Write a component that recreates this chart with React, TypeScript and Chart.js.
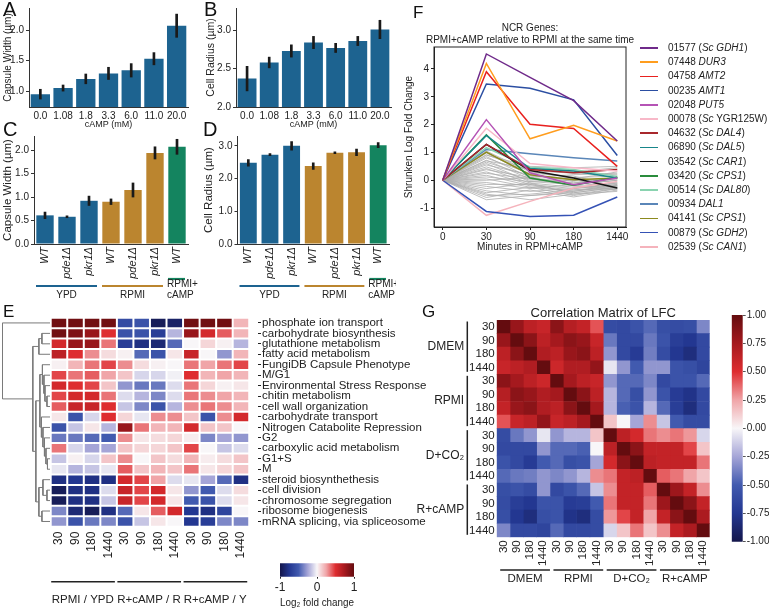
import React, { useEffect, useRef } from 'react';
import { Chart, registerables } from 'chart.js';

Chart.register(...registerables);

const SANS = '"Liberation Sans", Arial, Helvetica, sans-serif';
Chart.defaults.font.family = SANS;
const INK = '#222222';
const AXIS = '#333333';
const BLUE = '#1d6390';
const ORANGE = '#bb852f';
const GREEN = '#14845f';

// ---------------- DATA ----------------
// Panels A / B : cAMP titration
const CAMP_LABELS = ['0.0', '1.08', '1.8', '3.3', '6.0', '11.0', '20.0'];
const A_CAPSULE = [0.95, 1.05, 1.2, 1.29, 1.34, 1.53, 2.07];
const A_CAPSULE_ERR = [0.08, 0.05, 0.08, 0.1, 0.11, 0.1, 0.19];
const A_YTICKS = [1.0, 1.5, 2.0];
const B_RADIUS = [2.37, 2.58, 2.73, 2.84, 2.77, 2.86, 3.01];
const B_RADIUS_ERR = [0.16, 0.07, 0.08, 0.08, 0.06, 0.06, 0.12];
const B_YTICKS = [2.0, 2.5, 3.0];

// Panels C / D : strains in media
const STRAIN_LABELS = ['WT', 'pde1Δ', 'pkr1Δ', 'WT', 'pde1Δ', 'pkr1Δ', 'WT'];
const STRAIN_MEDIUM = [0, 0, 0, 1, 1, 1, 2];
const MEDIUM_GROUPS = [
  { label: ['YPD'], first: 0, last: 2 },
  { label: ['RPMI'], first: 3, last: 5 },
  { label: ['RPMI+', 'cAMP'], first: 6, last: 6 },
];
const MEDIUM_COLORS = [BLUE, ORANGE, GREEN];
const C_CAPSULE = [0.61, 0.58, 0.92, 0.9, 1.15, 1.94, 2.07];
const C_CAPSULE_ERR = [0.07, 0.02, 0.1, 0.06, 0.15, 0.13, 0.16];
const C_YTICKS = [0, 0.5, 1.0, 1.5, 2.0];
const D_RADIUS = [2.48, 2.73, 3.0, 2.38, 2.79, 2.8, 3.02];
const D_RADIUS_ERR = [0.1, 0.03, 0.13, 0.1, 0.03, 0.1, 0.08];
const D_YTICKS = [0, 1, 2, 3];

// Panel F : NCR genes
const F_TIMES = ['0', '30', '90', '180', '1440'];
const F_YTICKS = [-1, 0, 1, 2, 3, 4];
const F_TITLE = ['NCR Genes:', 'RPMI+cAMP relative to RPMI at the same time'];
const NCR_LABELS = [
  '01577 (*Sc GDH1*)', '07448 *DUR3*', '04758 *AMT2*', '00235 *AMT1*', '02048 *PUT5*',
  '00078 (*Sc* YGR125W)', '04632 (*Sc DAL4*)', '06890 (*Sc DAL5*)', '03542 (*Sc CAR1*)',
  '03420 (*Sc CPS1*)', '00514 (*Sc DAL80*)', '00934 *DAL1*', '04141 (*Sc CPS1*)',
  '00879 (*Sc GDH2*)', '02539 (*Sc CAN1*)',
];
const NCR_COLORS = [
  '#6f2a8a', '#ff9d1e', '#e8211f', '#2b4ea2', '#b553b5', '#f8b8c8', '#a8282c', '#17868a',
  '#141414', '#2a8c3c', '#8ad3b0', '#5a86b8', '#8c8a1e', '#3552b5', '#f5b3bc',
];
const NCR_VALUES = [
  [0, 4.54, 3.7, 2.86, 1.41],
  [0, 4.2, 1.49, 1.98, 1.41],
  [0, 3.9, 2.01, 1.86, 0.5],
  [0, 3.46, 3.31, 2.89, 0.89],
  [0, 2.18, 0.27, -0.16, 0.08],
  [0, 1.87, 0.6, 0.45, 0.33],
  [0, 1.29, 0.39, 0.27, 0.39],
  [0, 1.61, 0.42, 0.33, 0.08],
  [0, 1.29, 0.35, 0.08, -0.28],
  [0, 1.63, 0.08, -0.18, 0.11],
  [0, 1.17, 0.47, 0.39, 0.14],
  [0, 1.11, 0.95, 0.81, 0.69],
  [0, 1.01, 0.2, 0.02, 0.08],
  [0, -1.12, -1.3, -1.26, -0.6],
  [0, -1.26, -0.76, -0.28, -0.04],
];
const OTHER_NCR_VALUES = [
  [0, 1.05, 0.3, 0.1, -0.1],
  [0, 0.98, 0.2, 0.0, -0.2],
  [0, 0.92, 0.35, 0.25, 0.2],
  [0, 0.85, 0.1, -0.1, 0.05],
  [0, 0.8, 0.25, 0.15, -0.25],
  [0, 0.72, 0.05, -0.2, -0.1],
  [0, 0.65, 0.15, 0.05, 0.3],
  [0, 0.6, -0.05, -0.15, 0.0],
  [0, 0.55, 0.2, -0.05, -0.3],
  [0, 0.48, 0.0, 0.1, 0.15],
  [0, 0.42, -0.1, -0.25, -0.2],
  [0, 0.38, 0.1, 0.2, 0.25],
  [0, 0.3, -0.15, -0.3, -0.15],
  [0, 0.25, 0.05, -0.1, 0.1],
  [0, 0.18, -0.2, -0.35, -0.3],
  [0, 0.12, -0.05, 0.0, 0.05],
  [0, 0.05, -0.25, -0.4, -0.2],
  [0, 0.0, 0.1, -0.2, -0.35],
  [0, -0.08, -0.3, -0.15, 0.0],
  [0, -0.15, -0.15, -0.45, -0.25],
  [0, -0.22, -0.4, -0.3, -0.1],
  [0, -0.3, -0.1, -0.5, -0.4],
  [0, -0.38, -0.55, -0.4, -0.15],
  [0, -0.45, -0.25, -0.55, -0.3],
  [0, -0.55, -0.5, -0.35, -0.2],
  [0, -0.62, -0.35, -0.6, -0.35],
  [0, -0.7, -0.55, -0.45, -0.25],
  [0, 0.7, 0.4, 0.3, 0.45],
  [0, 0.9, 0.5, 0.45, 0.5],
  [0, -0.5, -0.7, -0.5, -0.3],
];

// Panel E : GO term heatmap
const E_TERMS = [
  'phosphate ion transport', 'carbohydrate biosynthesis', 'glutathione metabolism',
  'fatty acid metabolism', 'FungiDB Capsule Phenotype', 'M/G1', 'Environmental Stress Response',
  'chitin metabolism', 'cell wall organization', 'carbohydrate transport',
  'Nitrogen Catabolite Repression', 'G2', 'carboxylic acid metabolism', 'G1+S', 'M',
  'steroid biosynthethesis', 'cell division', 'chromosome segregation', 'ribosome biogenesis',
  'mRNA splicing, via spliceosome',
];
const E_TIMES = ['30', '90', '180', '1440'];
const E_COMPARISONS = ['RPMI / YPD', 'R+cAMP / R', 'R+cAMP / Y'];
const E_LFC = [
  [0.95, 0.95, 0.95, 0.95, -0.6, -0.55, -0.95, -0.9, 0.95, 0.95, 0.95, 0.2],
  [0.95, 0.9, 0.8, 0.5, -0.55, -0.55, -0.7, -0.2, 0.8, 0.55, 0.4, 0.2],
  [0.55, 0.8, 0.8, 0.35, -0.7, -0.8, -0.85, -0.45, 0.0, 0.1, 0.02, -0.2],
  [0.65, 0.5, 0.3, 0.08, 0.02, -0.45, -0.55, 0.05, 0.6, 0.0, -0.3, 0.2],
  [0.02, 0.2, 0.35, 0.45, 0.3, 0.08, 0.02, 0.0, 0.35, 0.25, 0.35, 0.45],
  [0.45, 0.35, 0.4, 0.25, 0.15, -0.1, -0.1, -0.02, 0.5, 0.2, 0.25, 0.2],
  [0.55, 0.5, 0.45, 0.15, -0.3, -0.4, -0.4, -0.08, 0.35, 0.1, 0.02, 0.05],
  [0.45, 0.55, 0.55, 0.35, -0.08, -0.2, -0.35, -0.08, 0.35, 0.3, 0.25, 0.2],
  [0.4, 0.6, 0.6, 0.5, -0.15, -0.35, -0.55, -0.2, 0.3, 0.35, 0.3, 0.2],
  [0.05, -0.55, -0.1, 0.5, 0.1, -0.05, 0.3, 0.3, 0.15, -0.55, 0.3, 0.55],
  [-0.55, -0.15, 0.05, -0.2, 0.8, 0.35, 0.2, 0.2, 0.55, 0.15, 0.15, 0.0],
  [-0.4, -0.4, -0.45, -0.5, 0.3, 0.05, 0.08, 0.1, 0.03, -0.35, -0.25, -0.3],
  [0.35, -0.1, -0.25, -0.25, 0.15, 0.1, 0.1, 0.15, 0.45, 0.0, -0.15, -0.08],
  [-0.15, 0.02, -0.1, 0.15, 0.3, 0.0, 0.15, 0.08, 0.2, 0.03, 0.08, 0.15],
  [-0.05, -0.2, -0.15, -0.05, 0.4, 0.15, 0.2, 0.15, 0.35, 0.05, 0.1, 0.15],
  [-0.8, -0.75, -0.8, -0.8, 0.55, 0.45, 0.25, -0.08, -0.05, -0.25, -0.45, -0.8],
  [-0.95, -0.8, -0.8, -0.08, 0.6, 0.45, 0.55, 0.05, -0.3, -0.5, -0.08, 0.08],
  [-0.95, -0.8, -0.8, -0.15, 0.6, 0.45, 0.55, 0.05, -0.5, -0.55, -0.08, 0.05],
  [-0.35, -0.85, -0.95, -0.8, -0.45, 0.05, 0.4, 0.55, -0.75, -0.8, -0.65, 0.0],
  [-0.3, -0.55, -0.4, -0.35, -0.55, -0.15, 0.05, 0.0, -0.75, -0.7, -0.35, -0.35],
];
// hierarchical clustering of the rows: [child a, child b, height]; leaves 0..19, merges 20..
const DENDRO_LINKS = [
  [1, 2, 8], [20, 3, 11],
  [7, 8, 3], [6, 22, 5], [5, 23, 6], [4, 24, 7.5],
  [13, 14, 2.5], [12, 26, 4], [11, 27, 5.5], [10, 28, 7], [9, 29, 8.5], [25, 30, 10],
  [16, 17, 3], [15, 32, 7], [18, 19, 8], [33, 34, 11],
  [31, 35, 14], [21, 36, 17], [0, 37, 47],
];
const E_CBAR_TICKS = [-1, 0, 1];

// Panel G : correlation matrix
const G_TIMES = ['30', '90', '180', '1440'];
const G_MEDIA = ['DMEM', 'RPMI', 'D+CO₂', 'R+cAMP'];
const G_CORR = [
  [1, 0.8, 0.65, 0.6, 0.85, 0.68, 0.62, 0.42, -0.6, -0.62, -0.55, -0.45, -0.58, -0.6, -0.58, -0.35],
  [0.8, 1, 0.85, 0.65, 0.75, 0.85, 0.8, 0.6, -0.4, -0.62, -0.62, -0.4, -0.55, -0.7, -0.75, -0.62],
  [0.65, 0.85, 1, 0.7, 0.65, 0.8, 0.85, 0.65, -0.3, -0.62, -0.72, -0.38, -0.6, -0.75, -0.82, -0.62],
  [0.6, 0.65, 0.7, 1, 0.58, 0.7, 0.7, 0.82, -0.05, -0.3, -0.5, -0.3, -0.3, -0.55, -0.58, -0.65],
  [0.85, 0.75, 0.65, 0.58, 1, 0.75, 0.65, 0.6, -0.3, -0.45, -0.45, -0.35, -0.62, -0.55, -0.55, -0.45],
  [0.68, 0.85, 0.8, 0.7, 0.75, 1, 0.85, 0.65, -0.2, -0.45, -0.58, -0.3, -0.55, -0.72, -0.78, -0.62],
  [0.62, 0.8, 0.85, 0.7, 0.65, 0.85, 1, 0.75, -0.2, -0.48, -0.55, -0.2, -0.45, -0.7, -0.82, -0.62],
  [0.42, 0.6, 0.65, 0.82, 0.6, 0.65, 0.75, 1, 0.15, 0.0, -0.25, 0.3, -0.15, -0.5, -0.6, -0.6],
  [-0.6, -0.4, -0.3, -0.05, -0.3, -0.2, -0.2, 0.15, 1, 0.65, 0.55, 0.35, 0.3, 0.35, 0.28, -0.1],
  [-0.62, -0.62, -0.62, -0.3, -0.45, -0.45, -0.48, 0.0, 0.65, 1, 0.85, 0.62, 0.62, 0.62, 0.45, 0.15],
  [-0.55, -0.62, -0.72, -0.5, -0.45, -0.58, -0.55, -0.25, 0.55, 0.85, 1, 0.65, 0.62, 0.62, 0.62, 0.35],
  [-0.45, -0.4, -0.38, -0.3, -0.35, -0.3, -0.2, 0.3, 0.35, 0.62, 0.65, 1, 0.4, 0.35, 0.25, 0.15],
  [-0.58, -0.55, -0.6, -0.3, -0.62, -0.55, -0.45, -0.15, 0.3, 0.62, 0.62, 0.4, 1, 0.78, 0.62, 0.3],
  [-0.6, -0.7, -0.75, -0.55, -0.55, -0.72, -0.7, -0.5, 0.35, 0.62, 0.62, 0.35, 0.78, 1, 0.85, 0.62],
  [-0.58, -0.75, -0.82, -0.58, -0.55, -0.78, -0.82, -0.6, 0.28, 0.45, 0.62, 0.25, 0.62, 0.85, 1, 0.72],
  [-0.35, -0.62, -0.62, -0.65, -0.45, -0.62, -0.62, -0.6, -0.1, 0.15, 0.35, 0.15, 0.3, 0.62, 0.72, 1],
];
const G_TITLE = 'Correlation Matrix of LFC';
const G_CBAR_TICKS = [-1, -0.75, -0.5, -0.25, 0, 0.25, 0.5, 0.75, 1];

// ---------------- COLOR MAP ----------------
const CMAP: [number, number[]][] = [
  [-1, [20, 22, 75]], [-0.75, [35, 55, 145]], [-0.5, [65, 90, 175]], [-0.25, [165, 165, 215]],
  [0, [248, 246, 248]], [0.25, [240, 165, 168]], [0.5, [222, 45, 48]], [0.75, [165, 25, 30]],
  [1, [100, 12, 15]],
];
function cmap(v: number): string {
  const x = Math.max(-1, Math.min(1, v));
  for (let k = 0; k < CMAP.length - 1; k++) {
    const [v0, c0] = CMAP[k];
    const [v1, c1] = CMAP[k + 1];
    if (x <= v1) {
      const t = (x - v0) / (v1 - v0);
      return `rgb(${c0.map((c, i) => Math.round(c + (c1[i] - c) * t)).join(',')})`;
    }
  }
  return 'rgb(100,12,15)';
}
function cmapGradient(chart: any, axis: 'x' | 'y') {
  if (!chart.chartArea) return '#ffffff';
  const sc = chart.scales[axis];
  const p0 = sc.getPixelForValue(-1);
  const p1 = sc.getPixelForValue(1);
  const g = axis === 'y'
    ? chart.ctx.createLinearGradient(0, p0, 0, p1)
    : chart.ctx.createLinearGradient(p0, 0, p1, 0);
  CMAP.forEach(([v, c]) => g.addColorStop((v + 1) / 2, `rgb(${c.join(',')})`));
  return g;
}

const font = (size: number, style = 'normal') => ({ family: SANS, size, style });
const baseOpts = { responsive: false, animation: false, events: [] as any[] };
const noPlugins = { legend: { display: false }, tooltip: { enabled: false } };

// ---------------- BAR PANELS ----------------
function barConfig(o: any): any {
  return {
    type: 'bar',
    data: {
      labels: o.labels,
      datasets: [
        {
          data: o.values.map((v: number, i: number) => [v - o.errs[i], v + o.errs[i]]),
          backgroundColor: '#1a1a1a', barThickness: 2, grouped: false, order: 0,
        },
        {
          data: o.values, backgroundColor: o.colors, barPercentage: o.barPct,
          categoryPercentage: 1, grouped: false, order: 1,
        },
      ],
    },
    options: {
      ...baseOpts,
      layout: { padding: o.pad },
      plugins: noPlugins,
      scales: {
        x: {
          offset: true,
          grid: { display: false, drawTicks: false },
          border: { display: true, color: AXIS, width: 1 },
          ticks: {
            autoSkip: false, maxRotation: o.rotate ? 90 : 0, minRotation: o.rotate ? 90 : 0,
            padding: 3, color: INK, font: font(o.rotate ? 11 : 10, o.italic ? 'italic' : 'normal'),
          },
          title: o.xTitle
            ? { display: true, text: o.xTitle, color: INK, font: font(9), padding: { top: 0, bottom: 0 } }
            : { display: false },
          afterFit: (s: any) => { s.height = o.xH; },
        },
        y: {
          min: o.yMin, max: o.yMax,
          afterBuildTicks: (s: any) => { s.ticks = o.yTicks.map((v: number) => ({ value: v })); },
          grid: { display: true, drawOnChartArea: false, drawTicks: true, tickLength: 3, color: AXIS },
          border: { display: true, color: AXIS, width: 1 },
          ticks: { color: INK, font: font(10), padding: 2, callback: (v: any) => Number(v).toFixed(1) },
          title: { display: true, text: o.yTitle, color: INK, font: font(o.yTitleSize), padding: { top: o.yTitlePad, bottom: 0 } },
          afterFit: (s: any) => { s.width = o.yW; },
        },
      },
    },
    plugins: o.extra || [],
  };
}

const mediumBars = {
  id: 'mediumBars',
  afterDraw(chart: any) {
    const { ctx } = chart;
    const x = chart.scales.x;
    const half = (x.getPixelForValue(1) - x.getPixelForValue(0)) / 2;
    ctx.save();
    MEDIUM_GROUPS.forEach((g, gi) => {
      const x0 = x.getPixelForValue(g.first) - half + 2;
      const x1 = x.getPixelForValue(g.last) + half - 3;
      const multi = g.label.length > 1;
      const lineY = multi ? 151 : 158;
      ctx.strokeStyle = MEDIUM_COLORS[gi];
      ctx.lineWidth = 2.2;
      ctx.beginPath();
      ctx.moveTo(x0, lineY);
      ctx.lineTo(x1, lineY);
      ctx.stroke();
      ctx.fillStyle = INK;
      ctx.font = `10px ${SANS}`;
      ctx.textBaseline = 'middle';
      ctx.textAlign = multi ? 'left' : 'center';
      const tx = multi ? x0 - 1 : (x0 + x1) / 2;
      g.label.forEach((t, li) => {
        ctx.fillText(t, tx, 167 - (g.label.length - 1 - li) * 10.5);
      });
    });
    ctx.restore();
  },
};

const mediumColors = STRAIN_MEDIUM.map((m) => MEDIUM_COLORS[m]);

const configA = () => barConfig({
  labels: CAMP_LABELS, values: A_CAPSULE, errs: A_CAPSULE_ERR, colors: BLUE,
  yMin: 0.74, yMax: 2.36, yTicks: A_YTICKS, yTitle: 'Capsule Width (µm)', xTitle: 'cAMP (mM)',
  yW: 29, xH: 23, pad: { left: 0, top: 8, right: 12, bottom: 0 }, yTitlePad: 2, yTitleSize: 10, barPct: 0.85,
  rotate: false, italic: false,
});
const configB = () => barConfig({
  labels: CAMP_LABELS, values: B_RADIUS, errs: B_RADIUS_ERR, colors: BLUE,
  yMin: 2.0, yMax: 3.29, yTicks: B_YTICKS, yTitle: 'Cell Radius (µm)', xTitle: 'cAMP (mM)',
  yW: 36, xH: 23, pad: { left: 0, top: 8, right: 5, bottom: 0 }, yTitlePad: 5, yTitleSize: 10.5, barPct: 0.85,
  rotate: false, italic: false,
});
const configC = () => barConfig({
  labels: STRAIN_LABELS, values: C_CAPSULE, errs: C_CAPSULE_ERR, colors: mediumColors,
  yMin: 0, yMax: 2.3, yTicks: C_YTICKS, yTitle: 'Capsule Width (µm)',
  yW: 34, xH: 61, pad: { left: 0, top: 3, right: 12, bottom: 0 }, yTitlePad: 0.6, yTitleSize: 11.5, barPct: 0.79,
  rotate: true, italic: true, extra: [mediumBars],
});
const configD = () => barConfig({
  labels: STRAIN_LABELS, values: D_RADIUS, errs: D_RADIUS_ERR, colors: mediumColors,
  yMin: 0, yMax: 3.3, yTicks: D_YTICKS, yTitle: 'Cell Radius (µm)',
  yW: 37.5, xH: 61, pad: { left: 0, top: 3, right: 7, bottom: 0 }, yTitlePad: 2.1, yTitleSize: 11.5, barPct: 0.78,
  rotate: true, italic: true, extra: [mediumBars],
});

// ---------------- PANEL F ----------------
const fDecor = {
  id: 'fDecor',
  afterDraw(chart: any) {
    const { ctx, chartArea: a } = chart;
    ctx.save();
    ctx.strokeStyle = INK;
    ctx.lineWidth = 1;
    ctx.strokeRect(a.left, a.top, a.right - a.left, a.bottom - a.top);
    ctx.fillStyle = INK;
    ctx.font = `10px ${SANS}`;
    ctx.textAlign = 'center';
    ctx.textBaseline = 'middle';
    const cx = (a.left + a.right) / 2;
    ctx.fillText(F_TITLE[0], cx, a.top - 18.5);
    ctx.fillText(F_TITLE[1], cx, a.top - 7);
    ctx.restore();
  },
};
const configF = () => ({
  type: 'scatter',
  data: {
    datasets: [
      ...NCR_VALUES.map((vals, k) => ({
        data: vals.map((v, i) => ({ x: i, y: v })), showLine: true, borderColor: NCR_COLORS[k],
        borderWidth: 1.5, pointRadius: 0,
      })),
      ...OTHER_NCR_VALUES.map((vals) => ({
        data: vals.map((v, i) => ({ x: i, y: v })), showLine: true, borderColor: '#adadad',
        borderWidth: 0.8, pointRadius: 0,
      })),
    ],
  },
  options: {
    ...baseOpts,
    layout: { padding: { left: 0, top: 27, right: 19, bottom: 0 } },
    plugins: noPlugins,
    scales: {
      x: {
        type: 'linear', min: -0.2, max: 4.2,
        afterBuildTicks: (s: any) => { s.ticks = F_TIMES.map((_, i) => ({ value: i })); },
        ticks: { callback: (_v: any, i: number) => F_TIMES[i], color: INK, font: font(10), padding: 1, maxRotation: 0 },
        grid: { display: true, drawOnChartArea: false, tickLength: 3, color: INK },
        border: { display: true, color: INK },
        title: { display: true, text: 'Minutes in RPMI+cAMP', color: INK, font: font(10), padding: { top: 0, bottom: 2 } },
        afterFit: (s: any) => { s.height = 28; },
      },
      y: {
        type: 'linear', min: -1.68, max: 4.79,
        afterBuildTicks: (s: any) => { s.ticks = F_YTICKS.map((v) => ({ value: v })); },
        ticks: { color: INK, font: font(10), padding: 2 },
        grid: { display: true, drawOnChartArea: false, tickLength: 3, color: INK },
        border: { display: true, color: INK },
        title: { display: true, text: 'Shrunken Log Fold Change', color: INK, font: font(10), padding: { top: 8, bottom: 0 } },
        afterFit: (s: any) => { s.width = 39; },
      },
    },
  },
  plugins: [fDecor],
});

// ---------------- HEATMAPS ----------------
function heatDatasets(values: number[][], border: number) {
  const nCols = values[0].length;
  const out: any[] = [];
  for (let j = 0; j < nCols; j++) {
    out.push({
      data: values.map(() => [j, j + 1]),
      backgroundColor: values.map((row) => cmap(row[j])),
      borderColor: '#ffffff', borderWidth: border, borderSkipped: false,
      inflateAmount: border > 0 ? 0 : 'auto',
      barPercentage: 1, categoryPercentage: 1, grouped: false,
    });
  }
  return out;
}

const E_COLS = E_COMPARISONS.flatMap(() => E_TIMES);
const eDecor = {
  id: 'eDecor',
  afterDraw(chart: any) {
    const { ctx } = chart;
    const x = chart.scales.x;
    ctx.save();
    E_COMPARISONS.forEach((name, g) => {
      const x0 = x.getPixelForValue(g * E_TIMES.length);
      const x1 = x.getPixelForValue((g + 1) * E_TIMES.length);
      ctx.strokeStyle = INK;
      ctx.lineWidth = 1.6;
      ctx.beginPath();
      ctx.moveTo(x0 + 0.5, 281.7);
      ctx.lineTo(x1 - 2, 281.7);
      ctx.stroke();
      ctx.fillStyle = INK;
      ctx.font = `11.5px ${SANS}`;
      ctx.textAlign = 'center';
      ctx.textBaseline = 'middle';
      ctx.fillText(name, (x0 + x1) / 2 - 1, 300);
    });
    ctx.restore();
  },
};
const configE = () => ({
  type: 'bar',
  data: { labels: E_TERMS, datasets: heatDatasets(E_LFC, 1) },
  options: {
    ...baseOpts,
    indexAxis: 'y',
    layout: { padding: { left: 5.7, top: 17.7, right: 0, bottom: 0 } },
    plugins: noPlugins,
    scales: {
      x: {
        type: 'linear', min: 0, max: 12.53,
        afterBuildTicks: (s: any) => { s.ticks = E_COLS.map((_, j) => ({ value: j + 0.5 })); },
        ticks: { callback: (_v: any, i: number) => E_COLS[i], minRotation: 90, maxRotation: 90, autoSkip: false, padding: 5, color: INK, font: font(12) },
        grid: { display: false, drawTicks: false },
        border: { display: false },
        afterFit: (s: any) => { s.height = 85.3; },
      },
      y: {
        type: 'category', position: 'right', offset: true,
        grid: { display: true, offset: false, drawOnChartArea: false, drawTicks: true, tickLength: 3, color: INK },
        border: { display: false },
        ticks: { autoSkip: false, padding: 1, color: INK, font: font(11.5) },
        afterFit: (s: any) => { s.width = 187; },
      },
    },
  },
  plugins: [eDecor],
});

function dendroDatasets() {
  const pos = E_TERMS.map((_, i) => ({ x: 0, y: i }));
  const out: any[] = [];
  DENDRO_LINKS.forEach(([a, b, h]) => {
    const pa = pos[a];
    const pb = pos[b];
    out.push({
      data: [{ x: pa.x, y: pa.y }, { x: h, y: pa.y }, { x: h, y: pb.y }, { x: pb.x, y: pb.y }],
      showLine: true, borderColor: '#7a7a7a', borderWidth: 1, pointRadius: 0,
    });
    pos.push({ x: h, y: (pa.y + pb.y) / 2 });
  });
  return out;
}
const configDendro = () => ({
  type: 'scatter',
  data: { datasets: dendroDatasets() },
  options: {
    ...baseOpts,
    layout: { padding: { left: 2, top: 17.7, right: 1, bottom: 85.3 } },
    plugins: noPlugins,
    scales: {
      x: { type: 'linear', min: 0, max: 47.5, reverse: true, display: false },
      y: { type: 'linear', min: -0.5, max: E_TERMS.length - 0.5, reverse: true, display: false },
    },
  },
});

const configECbar = () => ({
  type: 'bar',
  data: {
    labels: [''],
    datasets: [{ data: [[-1, 1]], backgroundColor: (c: any) => cmapGradient(c.chart, 'x'), barPercentage: 1, categoryPercentage: 1, borderWidth: 0 }],
  },
  options: {
    ...baseOpts,
    indexAxis: 'y',
    layout: { padding: { left: 10, top: 8.3, right: 16, bottom: 0 } },
    plugins: noPlugins,
    scales: {
      y: { display: false },
      x: {
        type: 'linear', min: -1, max: 1,
        afterBuildTicks: (s: any) => { s.ticks = E_CBAR_TICKS.map((v) => ({ value: v })); },
        ticks: { color: INK, font: font(12), padding: 2, maxRotation: 0, callback: (v: any) => String(v) },
        grid: { display: true, drawOnChartArea: false, tickLength: 2, color: INK },
        border: { display: false },
        title: { display: true, text: 'Log₂ fold change', color: INK, font: font(11.5), padding: { top: 0, bottom: 2 } },
        afterFit: (s: any) => { s.height = 35.3; },
      },
    },
  },
});

const G_COLS = G_MEDIA.flatMap(() => G_TIMES);
const gDecor = {
  id: 'gDecor',
  afterDraw(chart: any) {
    const { ctx, chartArea: a } = chart;
    const x = chart.scales.x;
    const y = chart.scales.y;
    const half = (y.getPixelForValue(1) - y.getPixelForValue(0)) / 2;
    ctx.save();
    ctx.fillStyle = INK;
    ctx.textBaseline = 'middle';
    ctx.font = `13px ${SANS}`;
    ctx.textAlign = 'center';
    ctx.fillText(G_TITLE, (a.left + a.right) / 2, a.top - 7);
    ctx.strokeStyle = INK;
    ctx.lineWidth = 1.5;
    G_MEDIA.forEach((name, g) => {
      const n = G_TIMES.length;
      // left
      const y0 = y.getPixelForValue(g * n) - half + 1.5;
      const y1 = y.getPixelForValue(g * n + n - 1) + half - 2.5;
      ctx.beginPath();
      ctx.moveTo(a.left - 29.4, y0);
      ctx.lineTo(a.left - 29.4, y1);
      ctx.stroke();
      ctx.font = `12px ${SANS}`;
      ctx.textAlign = 'right';
      ctx.fillText(name, a.left - 32.5, (y0 + y1) / 2);
      // bottom
      const x0 = x.getPixelForValue(g * n) + 3.5;
      const x1 = x.getPixelForValue(g * n + n);
      ctx.beginPath();
      ctx.moveTo(x0, a.bottom + 32.7);
      ctx.lineTo(x1, a.bottom + 32.7);
      ctx.stroke();
      ctx.font = `11.5px ${SANS}`;
      ctx.textAlign = 'center';
      ctx.fillText(name, (x0 + x1) / 2, a.bottom + 41.7);
    });
    ctx.restore();
  },
};
const configG = () => ({
  type: 'bar',
  data: { labels: G_COLS, datasets: heatDatasets(G_CORR, 0) },
  options: {
    ...baseOpts,
    indexAxis: 'y',
    layout: { padding: { left: 0, top: 20, right: 5, bottom: 0 } },
    plugins: noPlugins,
    scales: {
      x: {
        type: 'linear', min: 0, max: G_COLS.length,
        afterBuildTicks: (s: any) => { s.ticks = G_COLS.map((_, j) => ({ value: j + 0.5 })); },
        ticks: { callback: (_v: any, i: number) => G_COLS[i], minRotation: 90, maxRotation: 90, autoSkip: false, padding: 3, color: INK, font: font(11.5) },
        grid: { display: false, drawTicks: false },
        border: { display: false },
        afterFit: (s: any) => { s.height = 52.7; },
      },
      y: {
        type: 'category', position: 'left', offset: true,
        grid: { display: false, drawTicks: false },
        border: { display: false },
        ticks: { autoSkip: false, padding: 2, color: INK, font: font(11.5) },
        afterFit: (s: any) => { s.width = 81.7; },
      },
    },
  },
  plugins: [gDecor],
});

const configGCbar = () => ({
  type: 'bar',
  data: {
    labels: [''],
    datasets: [{ data: [[-1, 1]], backgroundColor: (c: any) => cmapGradient(c.chart, 'y'), barPercentage: 1, categoryPercentage: 1, borderWidth: 0 }],
  },
  options: {
    ...baseOpts,
    layout: { padding: { left: 11.7, top: 15, right: 0, bottom: 8.3 } },
    plugins: noPlugins,
    scales: {
      x: { display: false },
      y: {
        type: 'linear', position: 'right', min: -1, max: 1,
        afterBuildTicks: (s: any) => { s.ticks = G_CBAR_TICKS.map((v) => ({ value: v })); },
        ticks: { color: INK, font: font(10), padding: 1, callback: (v: any) => Number(v).toFixed(2) },
        grid: { display: true, drawOnChartArea: false, tickLength: 3, color: '#555555' },
        border: { display: false },
        afterFit: (s: any) => { s.width = 26.3; },
      },
    },
  },
});

// ---------------- COMPONENTS ----------------
function ChartCanvas({ left, top, width, height, make }: any) {
  const ref = useRef<HTMLCanvasElement>(null);
  useEffect(() => {
    const chart = new Chart(ref.current as HTMLCanvasElement, make());
    return () => chart.destroy();
  }, []);
  return (
    <canvas
      ref={ref}
      width={width}
      height={height}
      style={{ position: 'absolute', left, top, width, height }}
    />
  );
}

function Letter({ ch, x, capTop, size }: any) {
  return (
    <div style={{ position: 'absolute', left: x, top: capTop - 0.13 * size, fontFamily: SANS, fontSize: size, lineHeight: `${size}px`, color: '#111' }}>
      {ch}
    </div>
  );
}

function withItalics(s: string) {
  return s.split('*').map((part, i) => (i % 2 === 1 ? <i key={i}>{part}</i> : <span key={i}>{part}</span>));
}

function NcrLegend() {
  return (
    <div style={{ position: 'absolute', left: 640, top: 41, fontFamily: SANS, fontSize: 10, color: INK }}>
      {NCR_LABELS.map((lab, i) => (
        <div key={i} style={{ position: 'absolute', left: 0, top: i * 14.2, height: 14, whiteSpace: 'nowrap' }}>
          <div style={{ position: 'absolute', left: 0, top: 6.2, width: 18, height: 1.6, background: NCR_COLORS[i] }} />
          <span style={{ position: 'absolute', left: 28, top: 0, lineHeight: '14px' }}>{withItalics(lab)}</span>
        </div>
      ))}
    </div>
  );
}

export default function App() {
  return (
    <div style={{ position: 'absolute', left: 0, top: 0, width: 769, height: 612, overflow: 'hidden', background: '#fff' }}>
      <ChartCanvas left={0} top={0} width={200} height={130} make={configA} />
      <ChartCanvas left={200} top={0} width={196} height={130} make={configB} />
      <ChartCanvas left={0} top={128} width={200} height={177} make={configC} />
      <ChartCanvas left={200} top={128} width={196} height={177} make={configD} />
      <ChartCanvas left={395} top={20} width={250} height={235} make={configF} />
      <ChartCanvas left={0} top={300} width={51} height={312} make={configDendro} />
      <ChartCanvas left={45} top={300} width={400} height={312} make={configE} />
      <ChartCanvas left={270} top={555} width={100} height={57} make={configECbar} />
      <ChartCanvas left={415} top={300} width={305} height={290} make={configG} />
      <ChartCanvas left={720} top={300} width={49} height={250} make={configGCbar} />
      <NcrLegend />
      <Letter ch="A" x={3} capTop={2} size={20} />
      <Letter ch="B" x={204} capTop={2} size={20} />
      <Letter ch="C" x={3} capTop={122} size={20} />
      <Letter ch="D" x={203} capTop={122} size={20} />
      <Letter ch="E" x={3} capTop={305} size={17} />
      <Letter ch="F" x={413} capTop={6} size={17} />
      <Letter ch="G" x={422} capTop={305} size={17} />
    </div>
  );
}
